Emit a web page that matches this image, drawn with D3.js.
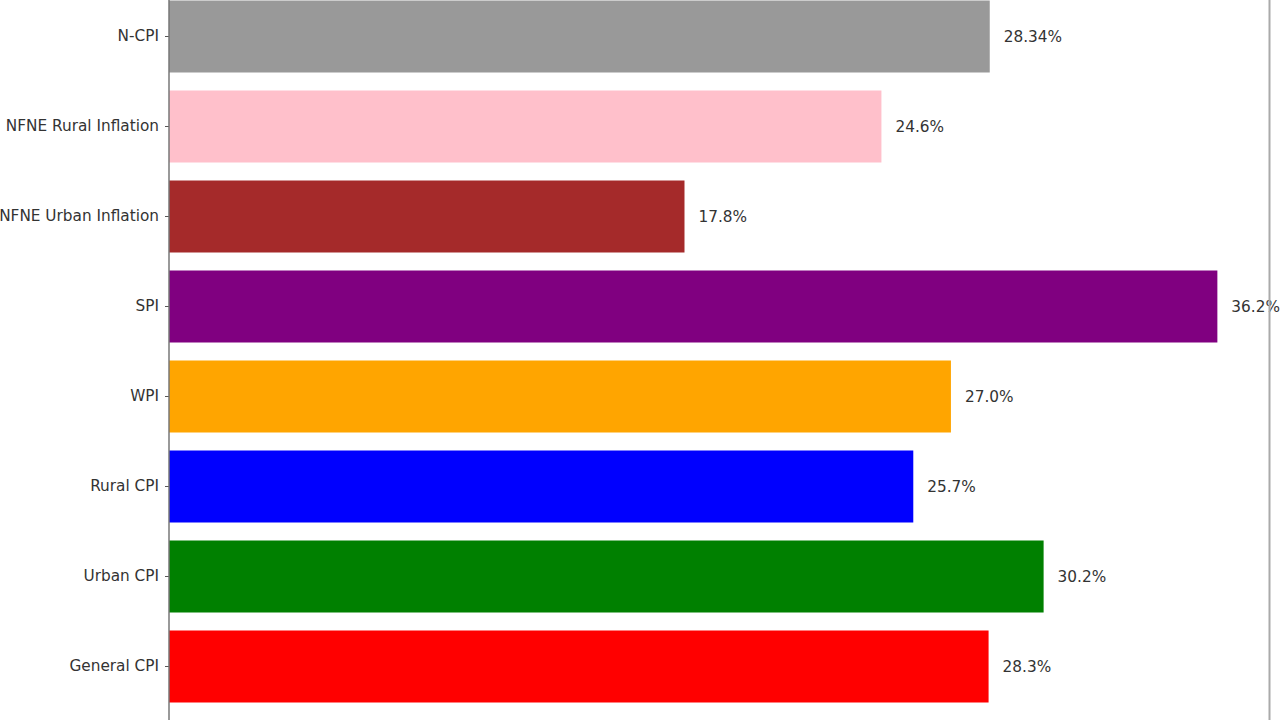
<!DOCTYPE html>
<html><head><meta charset="utf-8">
<script src="https://cdn.jsdelivr.net/npm/d3@7"></script>
<style>body{margin:0;background:#fff}svg{display:block}</style>
</head><body>
<script>
const categories = ["N-CPI","NFNE Rural Inflation","NFNE Urban Inflation","SPI","WPI","Rural CPI","Urban CPI","General CPI"];
const values = [28.34, 24.6, 17.8, 36.2, 27.0, 25.7, 30.2, 28.3];
const valueLabels = ["28.34%","24.6%","17.8%","36.2%","27.0%","25.7%","30.2%","28.3%"];
const colors = ["#999999","#FFC0CB","#A52A2A","#800080","#FFA500","#0000FF","#008000","#FF0000"];

const W=1280,H=720;
const svg=d3.select("body").append("svg").attr("width",W).attr("height",H);
const x=d3.scaleLinear().domain([0,38]).range([169,1269.5]);
const y=d3.scaleBand().domain(categories).range([-8.5,711.5]).paddingInner(0.2).paddingOuter(0.1);

svg.append("g").selectAll("rect").data(categories).join("rect")
  .attr("x",x(0)).attr("y",d=>y(d)).attr("width",(d,i)=>x(values[i])-x(0))
  .attr("height",y.bandwidth()).attr("fill",(d,i)=>colors[i]);

svg.append("g").selectAll("text").data(categories).join("text")
  .attr("x",(d,i)=>x(values[i])+14).attr("y",d=>y(d)+y.bandwidth()/2)
  .attr("dy","0.35em").attr("font-family","DejaVu Sans").attr("font-size",15.3)
  .attr("fill","#333").text((d,i)=>valueLabels[i]);

const ax=svg.append("g").attr("transform",`translate(${x(0)},0)`)
  .call(d3.axisLeft(y).tickSize(4).tickPadding(6));
ax.select(".domain").remove();
ax.selectAll("text").attr("font-family","DejaVu Sans").attr("font-size",15.3).attr("fill","#333");
ax.selectAll("line").attr("stroke","#555");

svg.append("line").attr("x1",x(0)).attr("x2",x(0)).attr("y1",0).attr("y2",H).attr("stroke","#777").attr("stroke-width",1.5);
svg.append("line").attr("x1",x(38)).attr("x2",x(38)).attr("y1",0).attr("y2",H).attr("stroke","#aaa").attr("stroke-width",2);
</script>
</body></html>
